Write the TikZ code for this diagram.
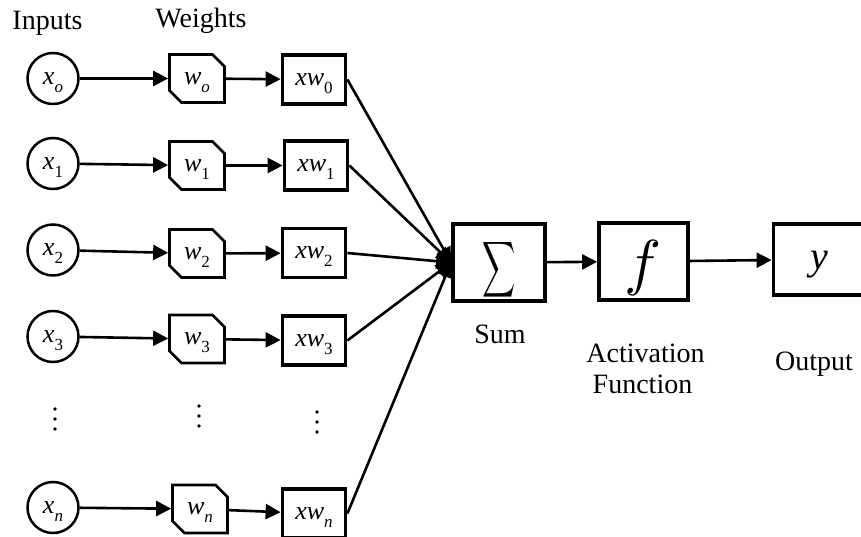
\documentclass[tikz,border=0pt]{standalone}
\usepackage{fontspec}
\setmainfont{Liberation Serif}
\usetikzlibrary{arrows.meta,shapes.geometric,shapes.misc}
\newcommand{\mlet}[2]{\textit{#1}\raisebox{-0.3em}{\fontsize{17}{17}\selectfont #2}}
\tikzset{
  inp/.style={circle, draw, line width=2.5pt, minimum size=51pt, inner sep=0pt,
              text depth=0pt, font=\fontsize{26}{28}\selectfont},
  wbox/.style={chamfered rectangle, chamfered rectangle corners={north east,south west},
               chamfered rectangle xsep=6pt, chamfered rectangle ysep=6pt,
               draw, line width=2.7pt, minimum width=55pt, minimum height=48pt, inner sep=0pt,
               text depth=0pt, font=\fontsize{26}{28}\selectfont},
  xwbox/.style={rectangle, draw, line width=3.8pt, minimum width=63pt, minimum height=49pt,
               inner sep=0pt, text depth=0pt, font=\fontsize{26}{28}\selectfont},
  bigbox/.style={rectangle, draw, line width=3.8pt, inner sep=0pt},
  lbl/.style={font=\fontsize{28}{30}\selectfont, anchor=base, inner sep=0pt},
  conn/.style={line width=2.6pt, -{Triangle[length=15pt,width=15pt]}},
  dotmark/.style={circle, fill, inner sep=0pt, minimum size=3.6pt}
}
\begin{document}
\begin{tikzpicture}[x=1pt,y=-1pt]
\useasboundingbox (0,0) rectangle (861,537);
\clip (0,0) rectangle (861,537);

% labels
\node[lbl] (linputs) at (47.5,30) {Inputs};
\node[lbl] (lweights) at (201,28) {Weights};
\node[lbl] (lsum) at (500,343) {Sum};
\node[lbl] (lact) at (645.5,362) {Activation};
\node[lbl] (lfun) at (642.5,393) {Function};
\node[lbl] (lout) at (814,370) {Output};

% inputs
\node[inp] (x0) at (53,78.5) {\mlet{x}{\textit{o}}};
\node[inp] (x1) at (53,163.5) {\mlet{x}{1}};
\node[inp] (x2) at (53,250) {\mlet{x}{2}};
\node[inp] (x3) at (53,336.5) {\mlet{x}{3}};
\node[inp] (xn) at (53,507.5) {\mlet{x}{\textit{n}}};

% weights
\node[wbox] (w0) at (197,78.5) {\mlet{w}{\textit{o}}};
\node[wbox] (w1) at (197,165.5) {\mlet{w}{1}};
\node[wbox] (w2) at (197,253.5) {\mlet{w}{2}};
\node[wbox] (w3) at (197,339) {\mlet{w}{3}};
\node[wbox] (wn) at (200,509) {\mlet{w}{\textit{n}}};

% products
\node[xwbox] (p0) at (314,79.5) {\mlet{xw}{0}};
\node[xwbox] (p1) at (316,165.5) {\mlet{xw}{1}};
\node[xwbox] (p2) at (314,253) {\mlet{xw}{2}};
\node[xwbox] (p3) at (314,340.5) {\mlet{xw}{3}};
\node[xwbox] (pn) at (314,513.5) {\mlet{xw}{\textit{n}}};

% sum, activation, output
\node[bigbox, minimum width=92pt, minimum height=77pt, text height=0pt, text depth=0pt] (sum) at (499,262.5)
  {\raisebox{-17pt}[0pt][0pt]{\scalebox{2.3}[3.9]{$\displaystyle\sum$}}};
\node[bigbox, minimum width=89pt, minimum height=77pt, text height=0pt, text depth=0pt] (act) at (643.5,261.5)
  {\raisebox{-22pt}[0pt][0pt]{\scalebox{6.2}{$f$}}};
\node[bigbox, minimum width=92pt, minimum height=71pt, text height=0pt, text depth=0pt] (out) at (819.5,259.5)
  {\raisebox{-10pt}[0pt][0pt]{\fontsize{40}{42}\selectfont\textit{y}}};

% dots
\foreach \px/\py [count=\i] in {55/409, 199/406, 317/412}{
  \node[dotmark] (da\i) at (\px,\py) {};
  \node[dotmark] (db\i) at (\px,\py+10) {};
  \node[dotmark] (dc\i) at (\px,\py+20) {};
}

% connectors
\foreach \r in {0,1,2,3,n}{
  \draw[conn] (x\r) -- (w\r);
  \draw[conn] (w\r) -- (p\r);
  \draw[conn] (p\r.east) -- (sum.west);
}
\draw[conn] (sum) -- (act);
\draw[conn] (act) -- (out);
\end{tikzpicture}
\end{document}
